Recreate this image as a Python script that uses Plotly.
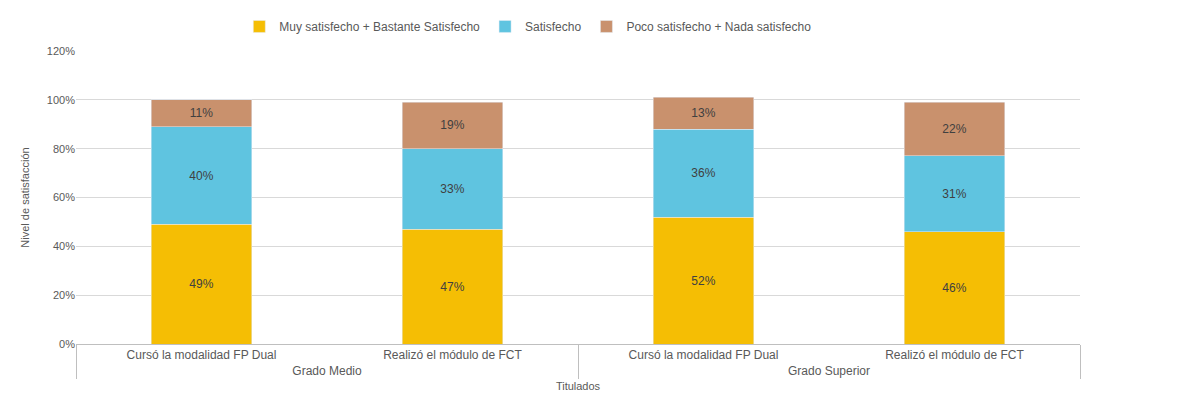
import plotly.graph_objects as go

grupos = ["Grado Medio", "Grado Medio", "Grado Superior", "Grado Superior"]
modalidades = ["Cursó la modalidad FP Dual", "Realizó el módulo de FCT",
               "Cursó la modalidad FP Dual", "Realizó el módulo de FCT"]
muy_satisfecho = [0.49, 0.47, 0.52, 0.46]
satisfecho = [0.40, 0.33, 0.36, 0.31]
poco_satisfecho = [0.11, 0.19, 0.13, 0.22]

series = [
    ("Muy satisfecho + Bastante Satisfecho", muy_satisfecho, "#F5BE04"),
    ("Satisfecho", satisfecho, "#5FC4E0"),
    ("Poco satisfecho + Nada satisfecho", poco_satisfecho, "#C9916D"),
]

fig = go.Figure()
for name, vals, color in series:
    fig.add_trace(go.Bar(
        x=[grupos, modalidades], y=vals, name=name, marker_color=color,
        text=[f"{v:.0%}" for v in vals], textposition="inside",
        insidetextanchor="middle", textfont=dict(color="#404040", size=12),
        width=0.4,
    ))

fig.update_layout(
    barmode="stack", width=1180, height=410,
    margin=dict(l=68, r=108, t=43, b=74, autoexpand=False),
    plot_bgcolor="white", paper_bgcolor="white",
    font=dict(family="Liberation Sans, Arial", size=11, color="#595959"),
    legend=dict(orientation="h", x=0.45, xanchor="center", y=0.955, yref="container",
                yanchor="middle", traceorder="normal", font=dict(size=12)),
    uniformtext=dict(mode="show", minsize=12),
)
fig.update_yaxes(range=[0, 1.2], dtick=0.2, tickformat=".0%", gridcolor="#D9D9D9",
                 zeroline=False, tickfont=dict(color="#595959"), automargin=False,
                 title=dict(text="Nivel de satisfacción", font=dict(size=11)))
fig.update_xaxes(showline=True, linecolor="#BFBFBF", showdividers=True,
                 dividercolor="#BFBFBF", tickfont=dict(size=12, color="#595959"),
                 automargin=False,
                 title=dict(text="Titulados", font=dict(size=11), standoff=4))

fig.write_html("out.html")
